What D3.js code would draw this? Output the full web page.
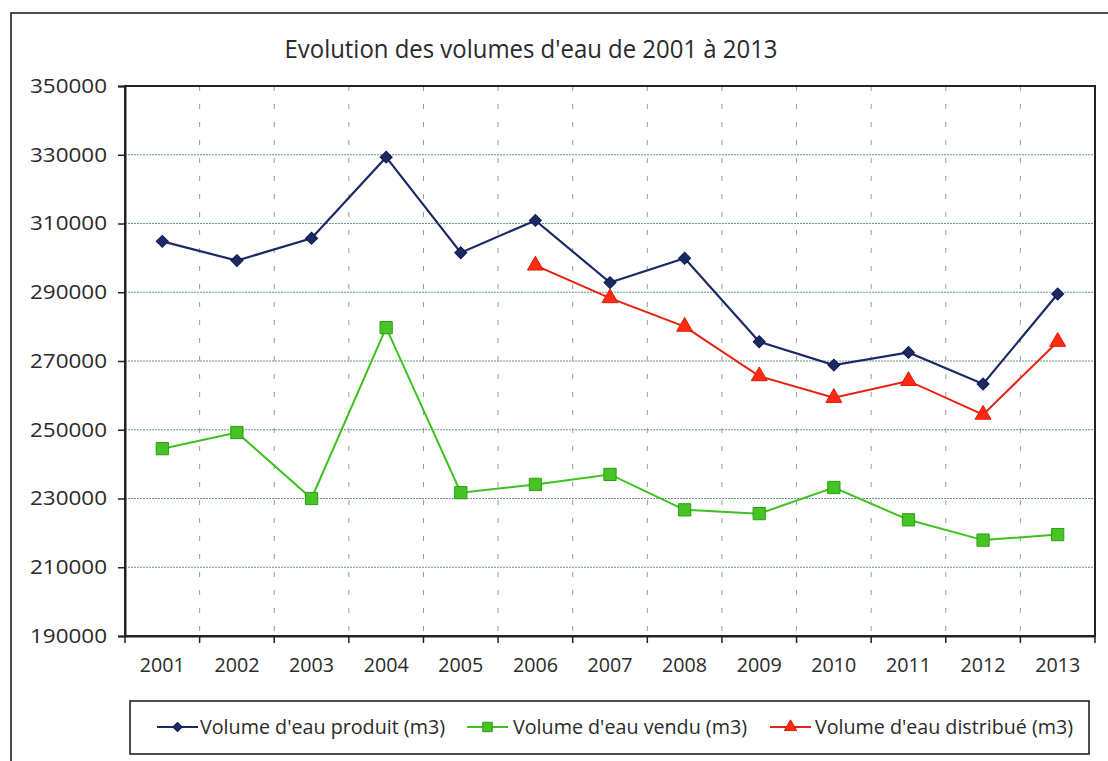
<!DOCTYPE html>
<html><head><meta charset="utf-8">
<script src="https://cdn.jsdelivr.net/npm/d3@7"></script>
<style>
html,body{margin:0;padding:0;background:#fff;}
svg{display:block;}
text{font-family:"Open Sans","DejaVu Sans",sans-serif;fill:#2a2a2a;}
</style></head>
<body>
<script>
const years = ["2001","2002","2003","2004","2005","2006","2007","2008","2009","2010","2011","2012","2013"];
const produit = [304800,299200,305700,329300,301500,310900,292800,299900,275600,268800,272500,263300,289500];
const vendu = [244500,249200,230000,279700,231700,234100,237000,226700,225600,233200,223800,217900,219500];
const distribue = [null,null,null,null,null,297800,288300,280000,265600,259300,264200,254400,275600];
const yTicks = [190000,210000,230000,250000,270000,290000,310000,330000,350000];
const title = "Evolution des volumes d'eau de 2001 à 2013";
const seriesNames = ["Volume d'eau produit (m3)","Volume d'eau vendu (m3)","Volume d'eau distribué (m3)"];

const W = 1108, H = 761;
const L = 125, R = 1095, T = 86, B = 636;

const svg = d3.select("body").append("svg").attr("width", W).attr("height", H);

// outer frame
svg.append("rect").attr("x", 11).attr("y", 13).attr("width", W + 20).attr("height", H + 20)
  .attr("fill", "none").attr("stroke", "#222").attr("stroke-width", 1.6);

// title
svg.append("text").attr("x", 531).attr("y", 58).attr("text-anchor", "middle")
  .attr("font-size", 25).attr("textLength", 493).attr("lengthAdjust", "spacingAndGlyphs")
  .attr("fill", "#222").text(title);

const x = d3.scaleBand().domain(years).range([L, R]).padding(0);
const y = d3.scaleLinear().domain([190000, 350000]).range([B, T]);

// horizontal gridlines
svg.append("g").selectAll("line").data(yTicks.filter(v => v > 190000 && v < 350000)).join("line")
  .attr("x1", L).attr("x2", R).attr("y1", d => y(d)).attr("y2", d => y(d))
  .attr("stroke", "#6f8d96").attr("stroke-width", 1).attr("stroke-dasharray", "2,1");

// vertical gridlines at category boundaries
const bounds = years.slice(1).map(c => x(c));
svg.append("g").selectAll("line").data(bounds).join("line")
  .attr("x1", d => d).attr("x2", d => d).attr("y1", T).attr("y2", B)
  .attr("stroke", "#9a9a9a").attr("stroke-width", 1).attr("stroke-dasharray", "5,13");

// plot border
svg.append("rect").attr("x", L).attr("y", T).attr("width", R - L).attr("height", B - T)
  .attr("fill", "none").attr("stroke", "#222").attr("stroke-width", 2);

// y axis
const ya = svg.append("g").attr("transform", `translate(${L},0)`)
  .call(d3.axisLeft(y).tickValues(yTicks).tickSize(7).tickPadding(11).tickFormat(d3.format("d")));
ya.select(".domain").attr("stroke", "#222").attr("stroke-width", 2);
ya.selectAll(".tick line").attr("stroke", "#222").attr("stroke-width", 1.5);
ya.selectAll(".tick text").attr("font-size", 20).attr("fill", "#444")
  .attr("textLength", 77).attr("lengthAdjust", "spacingAndGlyphs")
  .style("font-family", "'Open Sans','DejaVu Sans',sans-serif");

// x axis labels
const xa = svg.append("g").attr("transform", `translate(0,${B})`)
  .call(d3.axisBottom(x).tickSize(0).tickPadding(22));
xa.select(".domain").attr("stroke", "#222").attr("stroke-width", 2);
xa.selectAll(".tick text").attr("font-size", 20).attr("fill", "#444")
  .attr("textLength", 45).attr("lengthAdjust", "spacingAndGlyphs")
  .style("font-family", "'Open Sans','DejaVu Sans',sans-serif");
// x ticks at boundaries
svg.append("g").selectAll("line").data([L].concat(bounds, [R])).join("line")
  .attr("x1", d => d).attr("x2", d => d).attr("y1", B).attr("y2", B + 7)
  .attr("stroke", "#222").attr("stroke-width", 1.5);

const cx = d => x(d) + x.bandwidth() / 2;
const series = [
  {vals: produit, color: "#1b2a66", sym: d3.symbolSquare, rot: 45, size: 72, fill: "#1b2a66", stroke: "#0f1a4a", lw: 2.2},
  {vals: vendu, color: "#3cc21e", sym: d3.symbolSquare, rot: 0, size: 150, fill: "#45c424", stroke: "#2e9c16", lw: 2},
  {vals: distribue, color: "#e8200e", sym: d3.symbolTriangle, rot: 0, size: 110, fill: "#ff2a10", stroke: "#e01a08", lw: 2}
];

series.forEach(s => {
  const pts = years.map((yr, i) => ({yr, v: s.vals[i]})).filter(p => p.v != null);
  const line = d3.line().x(p => cx(p.yr)).y(p => y(p.v));
  svg.append("path").datum(pts).attr("d", line).attr("fill", "none")
    .attr("stroke", s.color).attr("stroke-width", s.lw);
  svg.append("g").selectAll("path").data(pts).join("path")
    .attr("transform", p => `translate(${cx(p.yr)},${y(p.v)}) rotate(${s.rot})`)
    .attr("d", d3.symbol().type(s.sym).size(s.size))
    .attr("fill", s.fill).attr("stroke", s.stroke).attr("stroke-width", 1);
});

// legend
svg.append("rect").attr("x", 130).attr("y", 701).attr("width", 959).attr("height", 53)
  .attr("fill", "none").attr("stroke", "#222").attr("stroke-width", 1.6);
const legItems = [
  {x0: 157, tx: 200, tl: 245},
  {x0: 467, tx: 513, tl: 234},
  {x0: 770, tx: 815, tl: 258}
];
legItems.forEach((it, i) => {
  const s = series[i];
  const g = svg.append("g");
  g.append("line").attr("x1", it.x0).attr("x2", it.x0 + 41).attr("y1", 727).attr("y2", 727)
    .attr("stroke", s.color).attr("stroke-width", 2);
  g.append("path").attr("transform", `translate(${it.x0 + 20.5},727) rotate(${s.rot})`)
    .attr("d", d3.symbol().type(s.sym).size(s.size * 0.6))
    .attr("fill", s.fill).attr("stroke", s.stroke).attr("stroke-width", 1);
  g.append("text").attr("x", it.tx).attr("y", 734).attr("font-size", 20)
    .attr("textLength", it.tl).attr("lengthAdjust", "spacingAndGlyphs").attr("fill", "#444")
    .text(seriesNames[i]);
});
</script>
</body></html>
